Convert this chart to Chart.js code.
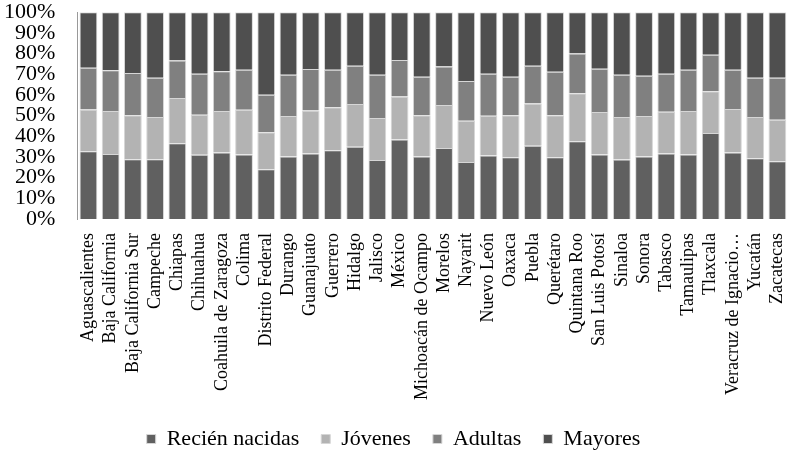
<!DOCTYPE html>
<html>
<head>
<meta charset="utf-8">
<script src="https://cdn.jsdelivr.net/npm/chart.js@4"></script>
<style>
  html, body { margin: 0; padding: 0; background: #fff; overflow: hidden; }
  #wrap { width: 788px; height: 454px; overflow: hidden; position: relative; }
  #chart { position: absolute; left: 0; top: -23px; }
</style>
</head>
<body>
<div id="wrap"><canvas id="chart" width="805" height="483"></canvas></div>
<script>
const estados = ['Aguascalientes', 'Baja California', 'Baja California Sur', 'Campeche', 'Chiapas',
    'Chihuahua', 'Coahuila de Zaragoza', 'Colima', 'Distrito Federal', 'Durango', 'Guanajuato',
    'Guerrero', 'Hidalgo', 'Jalisco', 'México', 'Michoacán de Ocampo', 'Morelos', 'Nayarit',
    'Nuevo León', 'Oaxaca', 'Puebla', 'Querétaro', 'Quintana Roo', 'San Luis Potosí', 'Sinaloa',
    'Sonora', 'Tabasco', 'Tamaulipas', 'Tlaxcala', 'Veracruz de Ignacio…', 'Yucatán', 'Zacatecas'];

// porcentajes por grupo de edad
const recienNacidas = [32.8, 31.5, 28.9, 28.9, 36.7, 31.1, 32.2, 31.2, 24.1, 30.2, 31.7,
    33.3, 35.0, 28.5, 38.5, 30.2, 34.3, 27.6, 30.7, 29.9, 35.5, 29.9, 37.6, 31.2, 28.8,
    30.2, 31.7, 31.2, 41.6, 32.2, 29.4, 28.0];
const jovenes = [20.2, 20.7, 21.3, 20.4, 21.8, 19.3, 20.0, 21.6, 17.9, 19.6, 20.8,
    20.8, 20.6, 20.3, 20.7, 20.0, 20.8, 19.9, 19.2, 20.3, 20.4, 20.3, 23.2, 20.5, 20.6,
    19.6, 20.2, 21.1, 20.2, 21.0, 19.9, 20.0];
const adultas = [20.2, 19.7, 20.4, 19.0, 18.1, 19.8, 19.2, 19.4, 18.1, 20.0, 20.0,
    18.1, 18.5, 21.0, 17.7, 18.6, 18.6, 19.3, 20.3, 18.6, 18.2, 21.0, 19.2, 21.0, 20.4,
    19.5, 18.3, 19.9, 17.6, 19.0, 19.0, 20.3];
const mayores = [26.8, 28.1, 29.4, 31.7, 23.4, 29.8, 28.6, 27.8, 39.9, 30.2, 27.5,
    27.8, 25.9, 30.2, 23.1, 31.2, 26.3, 33.2, 29.8, 31.2, 25.9, 28.8, 20.0, 27.3, 30.2,
    30.7, 29.8, 27.8, 20.6, 27.8, 31.7, 31.7];

const serie = (label, data, color) => ({
    label: label,
    data: data,
    backgroundColor: color,
    borderColor: '#d6d6d6',
    borderWidth: 1,
    barPercentage: 0.8,
    categoryPercentage: 1
});

new Chart(document.getElementById('chart'), {
    type: 'bar',
    data: {
        labels: estados,
        datasets: [
            serie('Recién nacidas', recienNacidas, '#606060'),
            serie('Jóvenes', jovenes, '#b3b3b3'),
            serie('Adultas', adultas, '#808080'),
            serie('Mayores', mayores, '#4f4f4f')
        ]
    },
    options: {
        responsive: false,
        animation: false,
        layout: { padding: { left: -18, right: 0, top: 0, bottom: 0 } },
        scales: {
            x: {
                stacked: true,
                grid: { display: false },
                border: { display: false },
                ticks: {
                    color: '#000',
                    font: { family: 'Liberation Serif', size: 18 },
                    maxRotation: 90,
                    minRotation: 90,
                    autoSkip: false,
                    padding: 6
                }
            },
            y: {
                stacked: true,
                min: 0,
                max: 100,
                grid: { display: false, drawTicks: false },
                border: { display: true, color: '#999', width: 1 },
                ticks: {
                    stepSize: 10,
                    autoSkip: false,
                    color: '#000',
                    font: { family: 'Liberation Serif', size: 22 },
                    padding: 22,
                    callback: v => v + '%'
                }
            }
        },
        plugins: {
            tooltip: { enabled: false },
            legend: {
                position: 'bottom',
                labels: {
                    color: '#000',
                    font: { family: 'Liberation Serif', size: 22 },
                    boxWidth: 9,
                    boxHeight: 9,
                    padding: 22,
                    useBorderRadius: false
                }
            }
        }
    }
});
</script>
</body>
</html>
